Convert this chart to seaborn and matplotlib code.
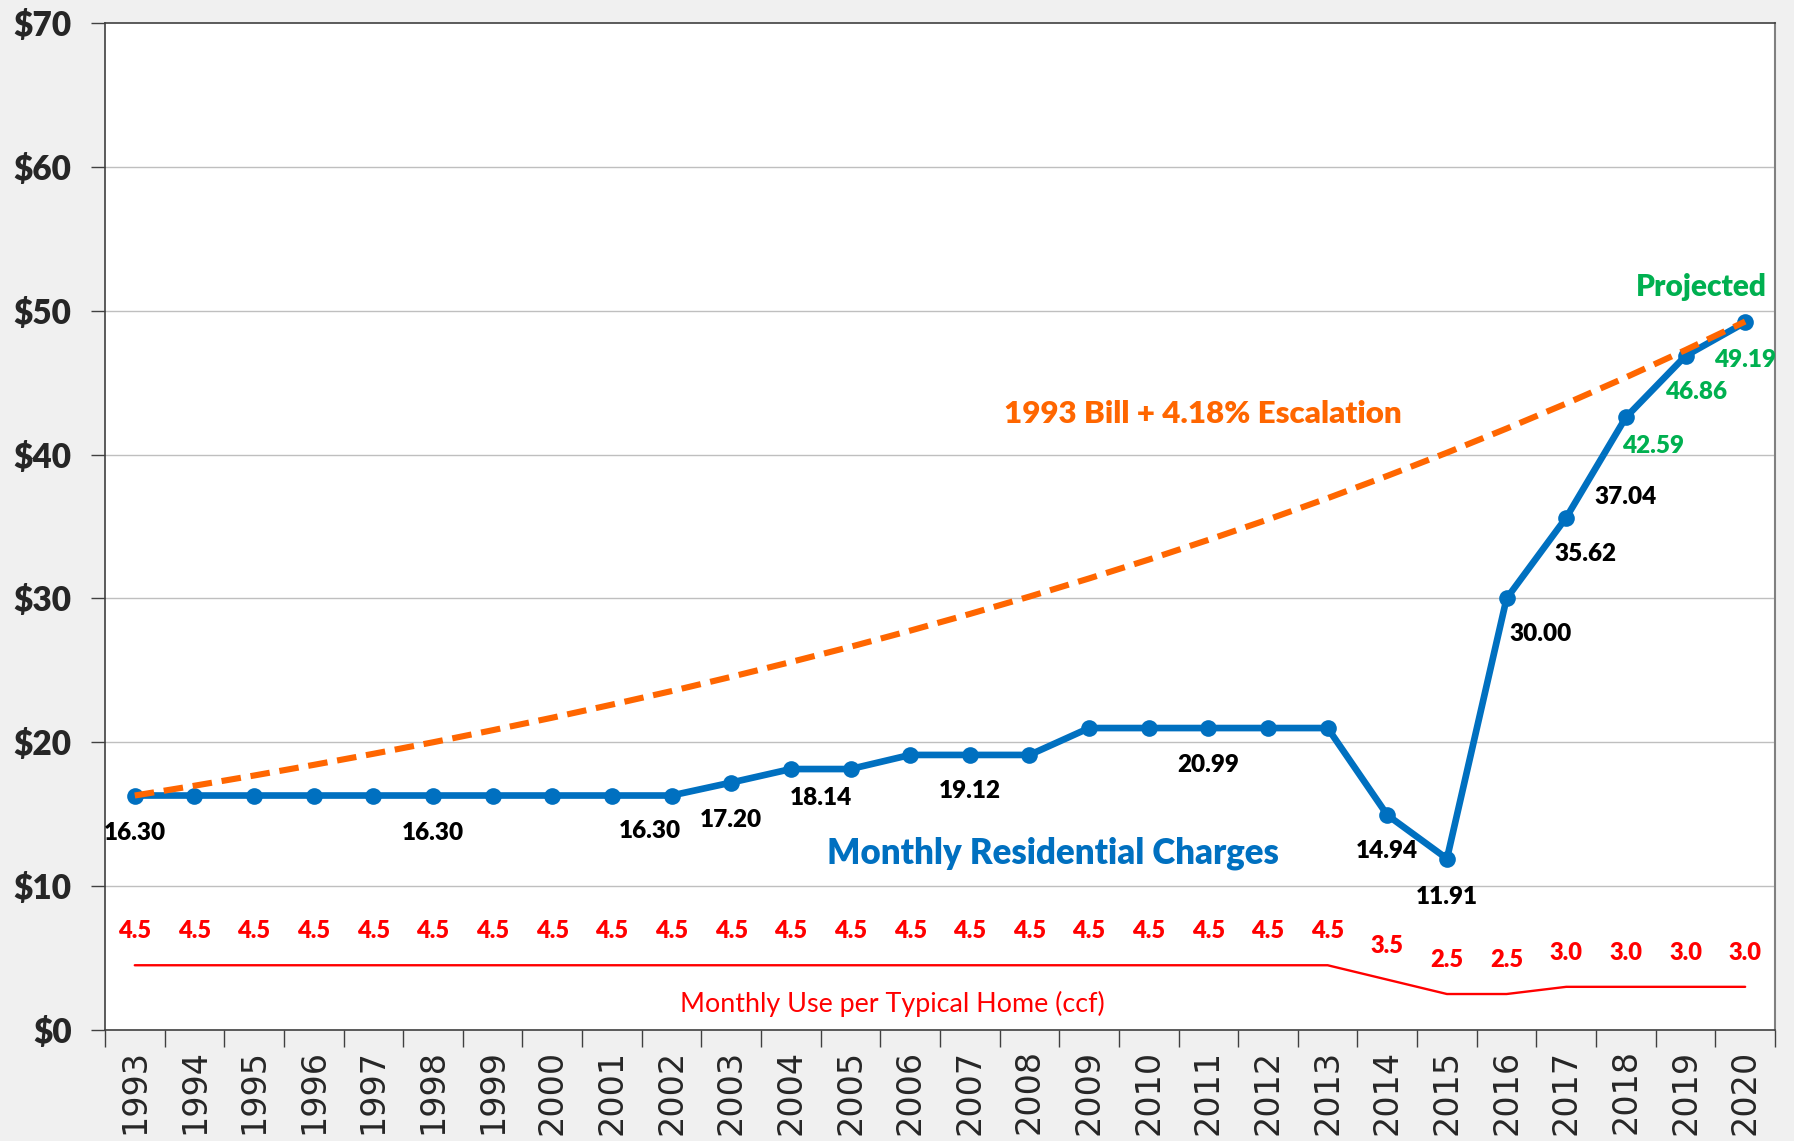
import numpy as np
import pandas as pd
import matplotlib
matplotlib.use("Agg")
import matplotlib.pyplot as plt
import seaborn as sns

# ==============================================================
# DATA
# ==============================================================
years = list(range(1993, 2021))

# Monthly residential charges ($)
charges = [16.30, 16.30, 16.30, 16.30, 16.30, 16.30, 16.30, 16.30, 16.30, 16.30,
           17.20, 18.14, 18.14, 19.12, 19.12, 19.12,
           20.99, 20.99, 20.99, 20.99, 20.99,
           14.94, 11.91, 30.00, 35.62, 42.59, 46.86, 49.19]

# 1993 bill escalated at 4.18% per year ($)
escalation = [16.30, 16.98, 17.69, 18.43, 19.20, 20.00, 20.84, 21.71, 22.62, 23.56,
              24.55, 25.58, 26.64, 27.76, 28.92, 30.13, 31.39, 32.70, 34.07, 35.49,
              36.97, 38.52, 40.13, 41.81, 43.55, 45.37, 47.27, 49.25]

# Monthly use per typical home (ccf)
usage = [4.5] * 21 + [3.5, 2.5, 2.5, 3.0, 3.0, 3.0, 3.0]

# Extra label value shown for 2018
adopted_2018 = 37.04

yticks = list(range(0, 80, 10))
ytick_labels = [f"${v}" for v in yticks]

# ==============================================================
# STYLE
# ==============================================================
BLUE = "#0070C0"
ORANGE = "#FF6600"
GREEN = "#00B050"
RED = "#FF0000"
BG = "#F0F0F0"
LABEL_FONT = ["Lato", "DejaVu Sans"]
HEAVY = 800

sns.set_theme(style="white")
plt.rcParams["font.family"] = ["DejaVu Sans"]

df = pd.DataFrame({"year": years, "charges": charges,
                   "escalation": escalation, "usage": usage})

fig, ax = plt.subplots(figsize=(17.94, 11.41), dpi=100)
fig.patch.set_facecolor(BG)
ax.set_facecolor("white")
fig.subplots_adjust(left=0.0585, right=0.9894, bottom=0.0973, top=0.9798)

# grid
for v in yticks[1:-1]:
    ax.axhline(v, color="#BFBFBF", lw=1.0, zorder=0)

# series
sns.lineplot(data=df, x="year", y="usage", ax=ax, color=RED, lw=1.7, zorder=2)
sns.lineplot(data=df, x="year", y="charges", ax=ax, color=BLUE, lw=4.8,
             marker="o", markersize=12, markeredgewidth=0, zorder=3)
sns.lineplot(data=df, x="year", y="escalation", ax=ax, color=ORANGE, lw=4.4, zorder=4)
ax.lines[-1].set_dashes((3.2, 1.6))

# charge labels: (year, text, colour, dx, dy)
charge_labels = [
    (1993, "16.30", "black", 0.0, -2.6),
    (1998, "16.30", "black", 0.0, -2.6),
    (2002, "16.30", "black", -0.36, -2.5),
    (2003, "17.20", "black", 0.0, -2.6),
    (2004, "18.14", "black", 0.5, -2.0),
    (2007, "19.12", "black", 0.0, -2.5),
    (2011, "20.99", "black", 0.0, -2.6),
    (2014, "14.94", "black", 0.0, -2.5),
    (2015, "11.91", "black", 0.0, -2.7),
    (2016, "30.00", "black", 0.57, -2.5),
    (2017, "35.62", "black", 0.33, -2.55),
    (2018, "42.59", GREEN, 0.46, -2.0),
    (2019, "46.86", GREEN, 0.17, -2.5),
    (2020, "49.19", GREEN, 0.0, -2.6),
]
for yr, txt, col, dx, dy in charge_labels:
    val = charges[years.index(yr)]
    ax.text(yr + dx, val + dy, txt, color=col, fontsize=17.5, fontweight=HEAVY,
            family=LABEL_FONT, ha="center", va="center", zorder=5)
ax.text(2018, adopted_2018, f"{adopted_2018:.2f}", color="black", fontsize=17.5,
        fontweight=HEAVY, family=LABEL_FONT, ha="center", va="center", zorder=5)

# usage labels
for yr, u in zip(years, usage):
    ax.text(yr, u + 2.35, f"{u:.1f}", color=RED, fontsize=17, fontweight=HEAVY,
            family=LABEL_FONT, ha="center", va="center", zorder=5)

# series captions
ax.text(2008.4, 12.3, "Monthly Residential Charges", color=BLUE, fontsize=25,
        fontweight=HEAVY, family=LABEL_FONT, ha="center", va="center")
ax.text(2010.9, 42.8, "1993 Bill + 4.18% Escalation", color=ORANGE, fontsize=22.5,
        fontweight=HEAVY, family=LABEL_FONT, ha="center", va="center")
ax.text(2019.27, 51.63, "Projected", color=GREEN, fontsize=21.5,
        fontweight=HEAVY, family=LABEL_FONT, ha="center", va="center")
ax.text(2005.7, 1.8, "Monthly Use per Typical Home (ccf)", color=RED, fontsize=19.4,
        family=LABEL_FONT, ha="center", va="center")

# axes
ax.set_xlim(years[0] - 0.5, years[-1] + 0.5)
ax.set_ylim(0, 70)
ax.set_yticks(yticks)
ax.set_yticklabels(ytick_labels, fontsize=24, fontweight=HEAVY, family=LABEL_FONT)
ax.set_xticks(years)
ax.set_xticklabels([str(y) for y in years], rotation=90, fontsize=24)
ax.set_xticks([y - 0.5 for y in years] + [years[-1] + 0.5], minor=True)
ax.tick_params(axis="x", which="major", length=0, pad=14)
ax.tick_params(axis="x", which="minor", length=12, width=1, color="#404040",
               direction="out", bottom=True)
ax.tick_params(axis="y", length=10, width=1, color="#404040", direction="out",
               left=True, pad=14)
ax.set_xlabel("")
ax.set_ylabel("")

for side in ["left", "top", "bottom"]:
    ax.spines[side].set_color("#404040")
    ax.spines[side].set_linewidth(1.2)
ax.spines["right"].set_color("#808080")
ax.spines["right"].set_linewidth(1.5)

fig.savefig("out.png", dpi=100, facecolor=BG)
